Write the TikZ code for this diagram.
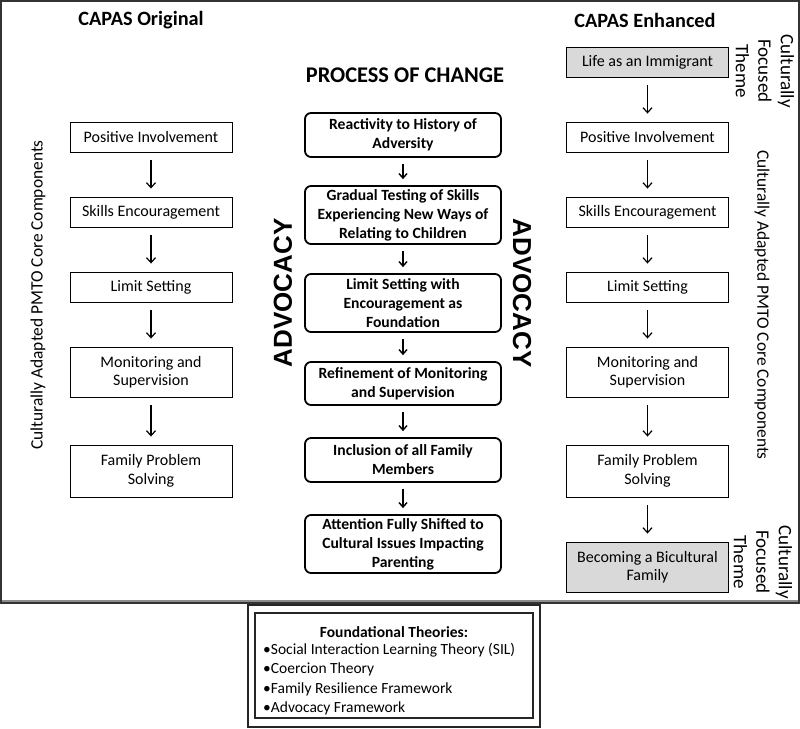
\documentclass[tikz,border=0pt]{standalone}
\usepackage{fontspec}
\setmainfont{Carlito}
\newfontfamily\advfont{Liberation Sans}
\usetikzlibrary{arrows.meta}
\definecolor{themegray}{RGB}{217,217,217}
\definecolor{framegray}{RGB}{140,140,140}
\tikzset{
  sq/.style={draw=black, line width=0.9pt, minimum width=162pt, inner sep=0pt, align=center, font=\fontsize{16}{18.5}\selectfont},
  theme/.style={sq, fill=themegray},
  rd/.style={draw=black, line width=1.8pt, rounded corners=6pt, minimum width=196pt, inner sep=0pt, align=center, font=\bfseries\fontsize{15.6}{19}\selectfont},
  arr/.style={-{Straight Barb[length=5pt,width=9pt,line width=1.2pt]}, line width=1.1pt, shorten <=8pt, shorten >=8pt},
  marr/.style={-{Straight Barb[length=4.5pt,width=8pt,line width=1.4pt]}, line width=1.4pt, shorten <=6pt, shorten >=6pt},
  ttl/.style={font=\bfseries\fontsize{20.3}{24}\selectfont},
  side/.style={font=\fontsize{17.4}{21}\selectfont, align=center},
  theme label/.style={font=\fontsize{19}{22.5}\selectfont, align=center},
  adv/.style={font=\advfont\bfseries\fontsize{26}{30}\selectfont},
}
\begin{document}
\begin{tikzpicture}[x=1pt,y=-1pt]
\useasboundingbox (0,0) rectangle (800,728);
% outer frame
\draw[framegray, line width=2pt] (1.5,600.5) -- (798.5,600.5);
\draw[black!80, line width=1.4pt] (1,1) rectangle (799,603);

% titles
\node[ttl] (t1) at (141,20) {CAPAS Original};
\node[ttl] (t2) at (645,20) {CAPAS Enhanced};
\node[font=\bfseries\fontsize{22.4}{26}\selectfont] (t3) at (405,75) {PROCESS OF CHANGE};

% left column
\node[sq, minimum height=30pt] (l1) at (151,137) {Positive Involvement};
\node[sq, minimum height=30pt] (l2) at (151,212) {Skills Encouragement};
\node[sq, minimum height=30pt] (l3) at (151,287) {Limit Setting};
\node[sq, minimum height=50pt] (l4) at (151,372) {Monitoring and\\Supervision};
\node[sq, minimum height=52pt] (l5) at (151,471) {Family Problem\\Solving};
\draw[arr] (l1) -- (l2);
\draw[arr] (l2) -- (l3);
\draw[arr] (l3) -- (l4);
\draw[arr] (l4) -- (l5);

% right column
\node[theme, minimum height=30pt] (r0) at (647.5,62) {Life as an Immigrant};
\node[sq, minimum height=30pt] (r1) at (647.5,137) {Positive Involvement};
\node[sq, minimum height=30pt] (r2) at (647.5,212) {Skills Encouragement};
\node[sq, minimum height=30pt] (r3) at (647.5,287) {Limit Setting};
\node[sq, minimum height=50pt] (r4) at (647.5,372) {Monitoring and\\Supervision};
\node[sq, minimum height=52pt] (r5) at (647.5,471) {Family Problem\\Solving};
\node[theme, minimum height=50pt] (r6) at (647.5,567) {Becoming a Bicultural\\Family};
\draw[arr] (r0) -- (r1);
\draw[arr] (r1) -- (r2);
\draw[arr] (r2) -- (r3);
\draw[arr] (r3) -- (r4);
\draw[arr] (r4) -- (r5);
\draw[arr] (r5) -- (r6);

% middle column
\node[rd, minimum height=44pt] (m1) at (403,135) {Reactivity to History of\\Adversity};
\node[rd, minimum height=58pt] (m2) at (403,215) {Gradual Testing of Skills\\Experiencing New Ways of\\Relating to Children};
\node[rd, minimum height=58pt] (m3) at (403,303) {Limit Setting with\\Encouragement as\\Foundation};
\node[rd, minimum height=43pt] (m4) at (403,383.5) {Refinement of Monitoring\\and Supervision};
\node[rd, minimum height=44pt] (m5) at (403,460) {Inclusion of all Family\\Members};
\node[rd, minimum height=58pt] (m6) at (403,544) {Attention Fully Shifted to\\Cultural Issues Impacting\\Parenting};
\draw[marr] (m1) -- (m2);
\draw[marr] (m2) -- (m3);
\draw[marr] (m3) -- (m4);
\draw[marr] (m4) -- (m5);
\draw[marr] (m5) -- (m6);

% advocacy
\node[adv, rotate=90] (a1) at (283,293) {ADVOCACY};
\node[adv, rotate=-90] (a2) at (522,293) {ADVOCACY};

% side labels
\node[side, rotate=90] (s1) at (38,295) {Culturally Adapted PMTO Core Components};
\node[side, rotate=-90] (s2) at (762,305) {Culturally Adapted PMTO Core Components};
\node[theme label, rotate=-90] (s3) at (765,71) {Culturally\\Focused\\Theme};
\node[theme label, rotate=-90] (s4) at (763,562) {Culturally\\Focused\\Theme};

% foundational theories
\node[draw=black!85, line width=1.4pt, minimum width=292pt, minimum height=122pt, inner sep=0pt] (fo) at (394,666) {};
\node[draw=black!85, line width=1.4pt, minimum width=278pt, minimum height=105pt, inner sep=0pt] (fi) at (394,665.5) {};
\node[font=\bfseries\fontsize{15.5}{18}\selectfont] (ft) at (394,632) {Foundational Theories:};
\node[anchor=north west, align=left, inner sep=0pt, font=\fontsize{15.5}{19.3}\selectfont] (fl) at (263,643) {•Social Interaction Learning Theory (SIL)\\•Coercion Theory\\•Family Resilience Framework\\•Advocacy Framework};
\end{tikzpicture}
\end{document}
